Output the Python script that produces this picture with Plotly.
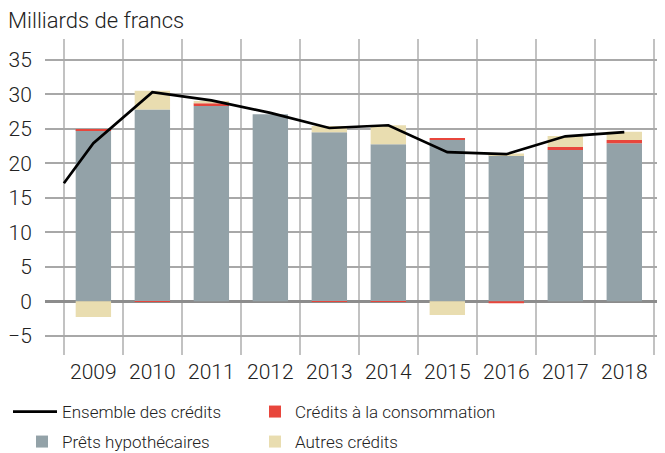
import plotly.graph_objects as go

years = [2009, 2010, 2011, 2012, 2013, 2014, 2015, 2016, 2017, 2018]
year_labels = [str(y) for y in years]
prets_hypothecaires = [24.8, 27.8, 28.3, 27.1, 24.5, 22.75, 23.4, 21.15, 21.9, 22.9]
credits_consommation = [0.15, -0.1, 0.4, 0.0, -0.1, -0.1, 0.25, -0.3, 0.45, 0.45]
autres_credits = [-2.3, 2.7, 0.3, 0.0, 0.9, 2.75, -2.0, 0.25, 1.6, 1.2]
ensemble_x = [2008.5, 2009, 2010, 2011, 2012, 2013, 2014, 2015, 2016, 2017, 2018]
ensemble_credits = [17.1, 22.9, 30.3, 29.1, 27.3, 25.1, 25.5, 21.6, 21.3, 23.9, 24.5]
grid_x = [2008.5 + i for i in range(11)]
y_ticks = [-5, 0, 5, 10, 15, 20, 25, 30, 35]
y_labels = ["−5", "0", "5", "10", "15", "20", "25", "30", "35"]

GREY = "#93a2a8"
RED = "#e8463c"
BEIGE = "#e9ddb0"
TXT = "#222222"

# page body adds an 8px offset, so the figure is sized to the visible area
W, H = 657, 445

fig = go.Figure()
fig.add_trace(go.Bar(x=years, y=prets_hypothecaires, name="Prêts hypothécaires",
                     marker=dict(color=GREY, line=dict(width=0)), width=0.6,
                     legend="legend3"))
fig.add_trace(go.Bar(x=years, y=credits_consommation, name="Crédits à la consommation",
                     marker=dict(color=RED, line=dict(width=0)), width=0.6,
                     legend="legend2"))
fig.add_trace(go.Bar(x=years, y=autres_credits, name="Autres crédits",
                     marker=dict(color=BEIGE, line=dict(width=0)), width=0.6,
                     legend="legend4"))
fig.add_trace(go.Scatter(x=ensemble_x, y=ensemble_credits, name="Ensemble des crédits",
                         mode="lines", line=dict(color="black", width=2.7),
                         legend="legend"))


def leg(xpx, ypx, iw=30):
    return dict(orientation="h", xref="container", yref="container",
                x=xpx / W, xanchor="left", y=1 - ypx / H, yanchor="middle",
                font=dict(size=17, color=TXT, weight=300), itemwidth=iw,
                bgcolor="rgba(0,0,0,0)")


fig.update_layout(
    width=W, height=H,
    margin=dict(l=34, r=0, t=31, b=98),
    plot_bgcolor="white", paper_bgcolor="white",
    barmode="relative",
    font=dict(family="Roboto", size=21, color=TXT, weight=300),
    title=dict(text="Milliards de francs", xref="container", yref="container",
               x=0, xanchor="left", y=1 - 12 / H, yanchor="middle",
               font=dict(size=22, color=TXT, weight=300)),
    showlegend=True,
    legend=leg(0, 404, 44),
    legend2=leg(247, 404),
    legend3=leg(14, 434),
    legend4=leg(247, 434),
    xaxis=dict(range=[2008.18, 2018.69], tickvals=years, ticktext=year_labels,
               showgrid=False, zeroline=False, showline=False,
               ticks="", ticklabelstandoff=2,
               tickfont=dict(size=21, weight=300),
               minor=dict(tickvals=grid_x, showgrid=True, gridcolor="#c2c2c2",
                          gridwidth=1.5, ticks="")),
    yaxis=dict(range=[-7.8, 38], tickvals=y_ticks, ticktext=y_labels,
               showgrid=True, gridcolor="#a8a8a8", gridwidth=1.5,
               zeroline=True, zerolinecolor="#8c8c8c", zerolinewidth=2.5,
               showline=False, ticks="outside", ticklen=8,
               tickcolor="rgba(0,0,0,0)", tickfont=dict(size=21, weight=300)),
)

fig.write_html("out.html")
